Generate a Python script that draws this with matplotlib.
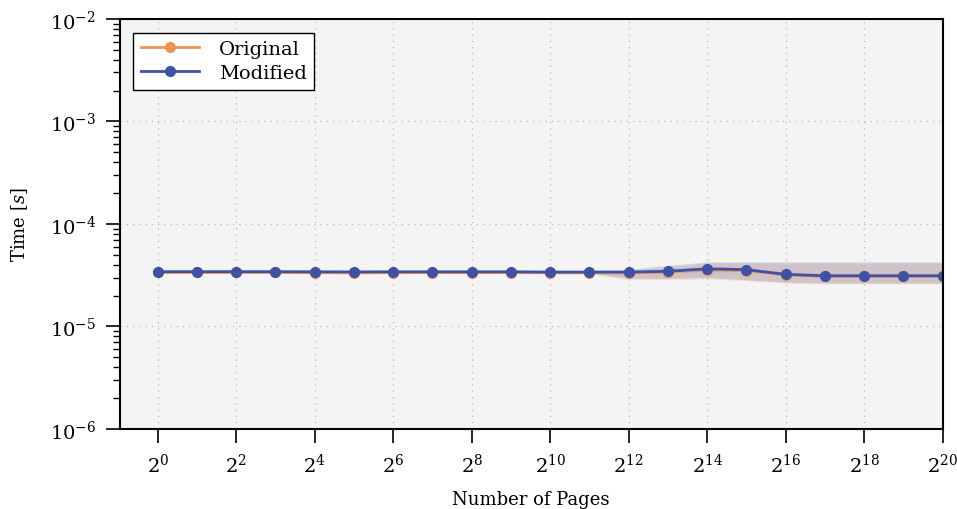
import numpy as np
import matplotlib
matplotlib.use("Agg")
from matplotlib import pyplot as plt
from matplotlib.ticker import FixedLocator, LogLocator, NullFormatter

plt.rcParams['font.family'] = ['DejaVu Serif']
plt.rcParams['mathtext.fontset'] = 'dejavuserif'

# number of pages (exponents of 2)
exps = list(range(0, 21))
pages = [2 ** e for e in exps]

# mean time [s]
original = [3.36e-5, 3.36e-5, 3.36e-5, 3.36e-5, 3.35e-5, 3.34e-5, 3.35e-5, 3.35e-5, 3.35e-5, 3.35e-5, 3.34e-5,
            3.34e-5, 3.33e-5, 3.38e-5, 3.55e-5, 3.50e-5, 3.18e-5, 3.08e-5, 3.08e-5, 3.08e-5, 3.08e-5]
modified = [3.42e-5, 3.42e-5, 3.42e-5, 3.42e-5, 3.41e-5, 3.40e-5, 3.41e-5, 3.41e-5, 3.41e-5, 3.41e-5, 3.39e-5,
            3.39e-5, 3.39e-5, 3.45e-5, 3.65e-5, 3.58e-5, 3.22e-5, 3.12e-5, 3.12e-5, 3.12e-5, 3.12e-5]
# spread (lower / upper)
original_lo = [3.28e-5, 3.28e-5, 3.28e-5, 3.28e-5, 3.27e-5, 3.22e-5, 3.26e-5, 3.27e-5, 3.27e-5, 3.27e-5, 3.26e-5,
               3.26e-5, 2.85e-5, 2.85e-5, 2.90e-5, 2.80e-5, 2.65e-5, 2.60e-5, 2.60e-5, 2.60e-5, 2.60e-5]
original_hi = [3.45e-5, 3.45e-5, 3.45e-5, 3.45e-5, 3.44e-5, 3.43e-5, 3.44e-5, 3.44e-5, 3.44e-5, 3.44e-5, 3.43e-5,
               3.43e-5, 3.50e-5, 3.80e-5, 4.15e-5, 4.15e-5, 4.15e-5, 4.15e-5, 4.15e-5, 4.15e-5, 4.15e-5]
modified_lo = [3.33e-5, 3.33e-5, 3.33e-5, 3.33e-5, 3.32e-5, 3.30e-5, 3.32e-5, 3.32e-5, 3.32e-5, 3.32e-5, 3.31e-5,
               3.31e-5, 2.95e-5, 2.95e-5, 3.00e-5, 2.85e-5, 2.70e-5, 2.65e-5, 2.65e-5, 2.65e-5, 2.65e-5]
modified_hi = [3.55e-5, 3.55e-5, 3.55e-5, 3.55e-5, 3.54e-5, 3.53e-5, 3.54e-5, 3.54e-5, 3.54e-5, 3.54e-5, 3.53e-5,
               3.53e-5, 3.60e-5, 3.95e-5, 4.25e-5, 4.25e-5, 4.25e-5, 4.25e-5, 4.25e-5, 4.25e-5, 4.25e-5]

c_orig = '#ef9450'
c_mod = '#3f51a5'

fig, ax = plt.subplots(figsize=(9.57, 5.10), dpi=100)
fig.subplots_adjust(left=0.125, right=0.985, top=0.961, bottom=0.157)
ax.set_facecolor('#f4f4f4')

ax.fill_between(pages, original_lo, original_hi, color=c_orig, alpha=0.2, lw=0)
ax.fill_between(pages, modified_lo, modified_hi, color=c_mod, alpha=0.2, lw=0)
ax.plot(pages, original, color=c_orig, marker='o', ms=7, lw=2, label='Original')
ax.plot(pages, modified, color=c_mod, marker='o', ms=7, lw=2, label='Modified')

ax.set_xscale('log', base=2)
ax.set_yscale('log')
ax.set_xlim(2 ** -0.97, 2 ** 20)
ax.set_ylim(1e-6, 1e-2)
ax.xaxis.set_major_locator(FixedLocator([2 ** e for e in range(0, 21, 2)]))
ax.xaxis.set_minor_locator(FixedLocator([]))
ax.set_xticklabels([r'$2^{%d}$' % e for e in range(0, 21, 2)])
ax.yaxis.set_major_locator(LogLocator(base=10, numticks=10))
ax.yaxis.set_minor_locator(LogLocator(base=10, subs=np.arange(2, 10), numticks=20))
ax.yaxis.set_minor_formatter(NullFormatter())

ax.grid(True, which='major', linestyle=(0, (1, 4)), color='#b8b8b8', lw=0.9)
ax.tick_params(which='major', direction='out', length=10, width=1.2, labelsize=14, colors='black', pad=7)
ax.tick_params(which='minor', direction='out', length=5, width=1.0)
for s in ax.spines.values():
    s.set_linewidth(1.5)
    s.set_color('black')

ax.set_xlabel('Number of Pages', fontsize=13, labelpad=10)
ax.set_ylabel('Time [$s$]', fontsize=13, labelpad=14)

leg = ax.legend(loc='upper left', fontsize=14, fancybox=False, edgecolor='black', framealpha=1,
                borderaxespad=0.7, handlelength=3.0, handletextpad=1.0, borderpad=0.4,
                labelspacing=0.3)
leg.get_frame().set_linewidth(1.0)

fig.savefig('out.png', dpi=100)
